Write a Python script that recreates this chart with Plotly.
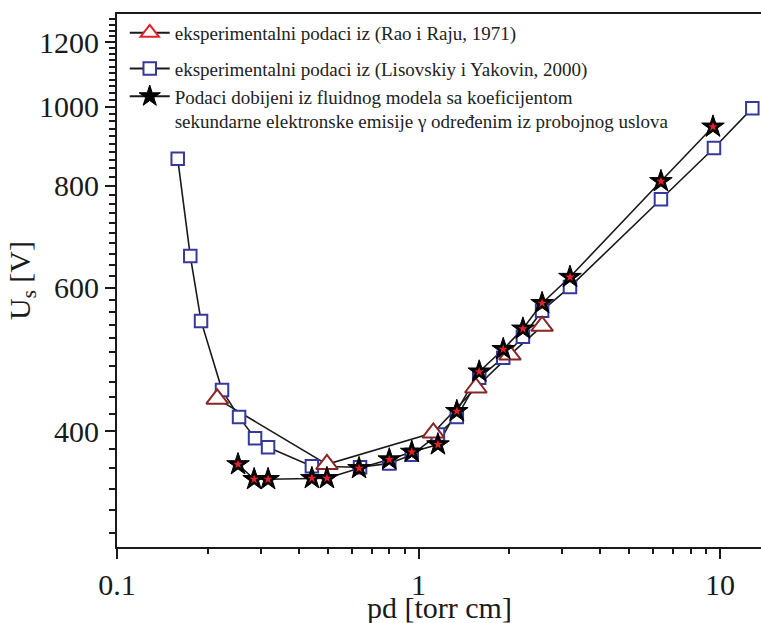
import plotly.graph_objects as go

# Lisovskiy i Yakovin, 2000 (blue squares)
sq_pd = [0.159, 0.175, 0.190, 0.223, 0.254, 0.287, 0.317, 0.443, 0.640, 0.80, 0.95,
         1.16, 1.34, 1.59, 1.91, 2.22, 2.57, 3.18, 6.37, 9.55, 12.8]
sq_U = [863, 656, 546, 449, 416, 392, 382, 362, 361, 365, 374,
        396, 416, 465, 492, 522, 562, 601, 770, 890, 996]

# Rao i Raju, 1971 (triangles)
tr_pd = [0.215, 0.497, 1.12, 1.55, 2.01, 2.57]
tr_U = [438, 364, 398, 452, 496, 538]

# Fluid model (stars)
st_pd = [0.252, 0.285, 0.317, 0.443, 0.497, 0.635, 0.80, 0.95, 1.16, 1.34,
         1.59, 1.91, 2.22, 2.57, 3.18, 6.37, 9.48]
st_U = [364, 349, 349, 350, 350, 360, 369, 377, 385, 423,
        473, 504, 534, 574, 618, 810, 945]

names = [
    "eksperimentalni podaci iz (Rao i Raju, 1971)",
    "eksperimentalni podaci iz (Lisovskiy i Yakovin, 2000)",
    "Podaci dobijeni iz fluidnog modela sa koeficijentom<br>sekundarne elektronske emisije γ određenim iz probojnog uslova",
]
groups = ["a", "b", "b"]

y_major = [400, 600, 800, 1000, 1200]
y_minor = [v for v in range(300, 1300, 20) if v not in y_major]
x_major = [0.1, 1, 10]
x_minor = [m * d for d in (0.1, 1, 10) for m in range(2, 10)]

FONT = "Times New Roman, Liberation Serif, serif"
LINE = "#1a1a1a"
BLUE = "#35399a"
MAROON = "#8b2525"
RED = "#e8202a"

fig = go.Figure()

# connecting lines
for xs, ys in ((tr_pd, tr_U), (sq_pd, sq_U), (st_pd, st_U)):
    fig.add_trace(go.Scatter(x=xs, y=ys, mode="lines", line=dict(color=LINE, width=1.6),
                             showlegend=False, hoverinfo="skip"))

# markers
fig.add_trace(go.Scatter(x=sq_pd, y=sq_U, mode="markers", showlegend=False,
                         marker=dict(symbol="square", size=12.5, color="white",
                                     line=dict(color=BLUE, width=2))))
fig.add_trace(go.Scatter(x=tr_pd, y=tr_U, mode="markers", showlegend=False,
                         marker=dict(symbol="triangle-up", size=19, color="white",
                                     line=dict(color=MAROON, width=2))))
fig.add_trace(go.Scatter(x=st_pd, y=st_U, mode="markers", showlegend=False,
                         marker=dict(symbol="star", size=17, color="black",
                                     line=dict(color="black", width=1))))
fig.add_trace(go.Scatter(x=st_pd, y=st_U, mode="markers", showlegend=False,
                         marker=dict(symbol="star", size=7, color=RED,
                                     line=dict(width=0))))

# legend entries
leg_markers = [
    dict(symbol="triangle-up", size=19, color="white", line=dict(color=RED, width=2)),
    dict(symbol="square", size=12.5, color="white", line=dict(color=BLUE, width=2)),
    dict(symbol="star", size=17, color="black", line=dict(color="black", width=1)),
]
for nm, mk, g in zip(names, leg_markers, groups):
    fig.add_trace(go.Scatter(x=[None], y=[None], mode="lines+markers", name=nm,
                             legendgroup=g,
                             line=dict(color=LINE, width=2), marker=mk))

axis_common = dict(
    type="log", showgrid=False, zeroline=False, showline=True, automargin=False,
    linecolor="#1a1a1a", linewidth=2, ticks="outside", tickcolor="#1a1a1a",
    tickwidth=2, tickfont=dict(family=FONT, size=30, color="#1a1a1a"),
)

fig.update_layout(
    width=761, height=623,
    margin=dict(l=117, r=0, t=14, b=76),
    paper_bgcolor="white", plot_bgcolor="white",
    font=dict(family=FONT, color="#1a1a1a"),
    xaxis=dict(
        **axis_common,
        range=[-1, 1.136], tickvals=x_major, ticktext=["0.1", "1", "10"],
        ticklen=10, mirror=True, ticklabelstandoff=0,
        minor=dict(tickvals=x_minor, ticks="outside", ticklen=5, tickwidth=2,
                   tickcolor="#1a1a1a"),
    ),
    yaxis=dict(
        **axis_common,
        range=[2.4597, 3.1138], tickvals=y_major, ticktext=[str(v) for v in y_major],
        ticklen=10, ticklabelstandoff=0,
        minor=dict(tickvals=y_minor, ticks="outside", ticklen=6, tickwidth=2,
                   tickcolor="#1a1a1a"),
        title=dict(text="U<sub>s</sub> [V]", font=dict(family=FONT, size=30), standoff=0),
    ),
    legend=dict(
        x=0.012, y=1.0, xanchor="left", yanchor="top",
        bgcolor="rgba(0,0,0,0)", borderwidth=0, itemwidth=40,
        font=dict(family=FONT, size=19, color="#222"),
        traceorder="grouped", tracegroupgap=8, valign="top",
    ),
    annotations=[dict(
        text="pd [torr cm]", xref="paper", yref="paper", x=0.5, y=-0.078,
        xanchor="center", yanchor="top", showarrow=False,
        font=dict(family=FONT, size=30, color="#1a1a1a"),
    )],
)

fig.write_html("out.html")
